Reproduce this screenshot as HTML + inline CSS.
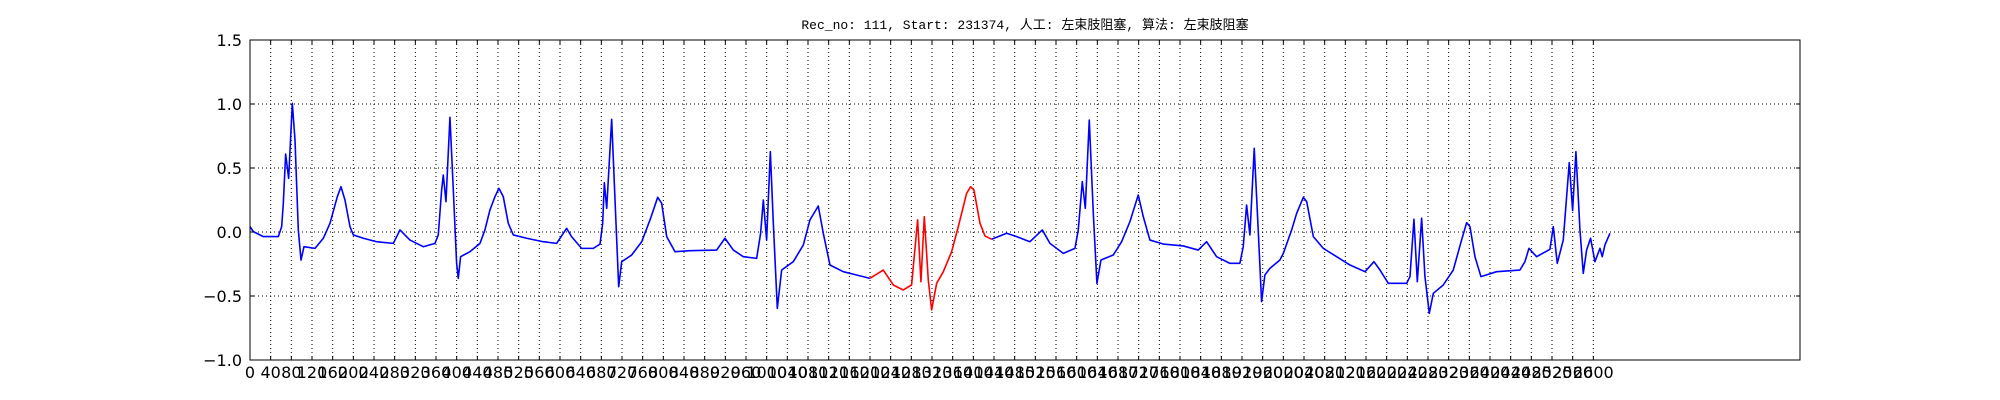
<!DOCTYPE html>
<html><head><meta charset="utf-8"><style>
html,body{margin:0;padding:0;background:#fff;}
svg{display:block;}
</style></head><body>
<svg id="chart" width="2000" height="400" xmlns="http://www.w3.org/2000/svg">
<text x="1025" y="29" text-anchor="middle" font-family="'Liberation Mono','Noto Sans CJK SC',monospace" font-size="13" fill="#000">Rec_no: 111, Start: 231374, 人工: 左束肢阻塞, 算法: 左束肢阻塞</text>
<g id="grid"></g><g id="series"></g><g id="axes"></g>
</svg>
<script>
const blueSamples=[0,6.5,25.8,54.8,61.3,64.5,69,74.8,81.9,87.1,93.5,98.7,104.5,125.8,141.9,154.8,169,176.1,183.8,193.5,200,219.3,245.1,277.4,290.3,296.7,309.6,335.4,358,364.4,370.9,374.1,379.3,387,393.5,399.9,403.1,407.6,425.7,445.1,454.7,464.4,474.1,481.8,490.2,499.9,509.6,535.4,567.6,593.4,612.8,622.4,641.8,664.4,677.5,682.6,685.8,690.4,700,706.5,713.6,719.4,738.7,758.1,774.2,789.1,796.8,806.5,822.6,851.6,903.2,919.3,935.5,954.8,980.6,988.3,993.5,999.9,1007.1,1012.9,1020.6,1029,1051.5,1070.9,1083.8,1099.9,1109.6,1122.5,1148.3,1174.1,1199.9];
const blueValues=[0.042,0.003,-0.036,-0.036,0.042,0.224,0.609,0.419,1.005,0.719,0.016,-0.219,-0.115,-0.128,-0.049,0.068,0.276,0.354,0.25,0.042,-0.023,-0.049,-0.076,-0.089,0.016,-0.01,-0.063,-0.115,-0.089,-0.023,0.328,0.445,0.237,0.896,0.328,-0.245,-0.362,-0.193,-0.154,-0.089,0.016,0.172,0.276,0.341,0.276,0.068,-0.023,-0.049,-0.076,-0.089,0.029,-0.036,-0.128,-0.128,-0.094,0.068,0.385,0.185,0.880,0.25,-0.427,-0.232,-0.18,-0.076,0.094,0.271,0.224,-0.036,-0.154,-0.146,-0.141,-0.049,-0.141,-0.193,-0.206,-0.010,0.25,-0.063,0.628,0.068,-0.596,-0.297,-0.232,-0.102,0.094,0.203,-0.01,-0.258,-0.31,-0.336,-0.362];
const redSamples=[1199.9,1225.7,1245.1,1264.4,1280.5,1292.2,1298.6,1305.1,1312.8,1319.3,1329,1341.9,1358,1370.9,1387,1394.8,1401.2,1412.9,1422.5,1435.4];
const redValues=[-0.362,-0.297,-0.414,-0.453,-0.414,0.094,-0.388,0.120,-0.375,-0.609,-0.401,-0.31,-0.154,0.042,0.302,0.354,0.328,0.068,-0.031,-0.057];
const blue2Samples=[1435.4,1464.5,1483.8,1509.6,1533.5,1548.3,1574.1,1596.7,1603.1,1610.9,1616.7,1624.4,1632.2,1639.2,1647,1670.9,1687,1703.1,1719.2,1728.9,1741.8,1767.6,1806.3,1835.3,1851.5,1870.8,1896.6,1915.9,1922.4,1928.9,1935.3,1943.7,1951.4,1957.9,1964.3,1974,1993.4,2000,2016.1,2025.8,2038.7,2045.2,2058.1,2077.4,2103.2,2129,2158,2175.4,2187.1,2203.2,2238.7,2245.1,2252.8,2259.3,2267.7,2274.1,2282.5,2290.3,2309.6,2328.9,2345,2354.8,2361.2,2370.9,2382.5,2412.8,2458,2467.6,2475.4,2490.2,2516,2522.5,2530.2,2541.8,2553.4,2559.9,2566.3,2574.1,2580.5,2587,2594.7,2603.1,2612.8,2617.3,2622.4,2632.1];
const blue2Values=[-0.057,-0.01,-0.036,-0.076,0.016,-0.089,-0.167,-0.128,0.016,0.393,0.185,0.875,0.146,-0.401,-0.219,-0.18,-0.076,0.081,0.289,0.120,-0.063,-0.094,-0.109,-0.141,-0.076,-0.193,-0.245,-0.245,-0.115,0.211,-0.023,0.654,0.016,-0.544,-0.336,-0.284,-0.219,-0.167,0.016,0.146,0.271,0.237,-0.036,-0.128,-0.193,-0.258,-0.31,-0.232,-0.297,-0.401,-0.401,-0.349,0.099,-0.388,0.107,-0.349,-0.635,-0.479,-0.414,-0.297,-0.063,0.073,0.042,-0.193,-0.349,-0.31,-0.297,-0.232,-0.128,-0.193,-0.135,0.042,-0.245,-0.063,0.542,0.167,0.628,0.016,-0.323,-0.141,-0.049,-0.232,-0.128,-0.193,-0.102,-0.01];
const yTicks=[1.5,1.0,0.5,0.0,-0.5,-1.0];
const yTickLabels=["1.5","1.0","0.5","0.0","\u22120.5","\u22121.0"];
const xMax=3000, xTickStep=40, xTickLast=2600;

const L=250,R=1800,T=40,B=360,yMin=-1,yMaxV=1.5;
const NS="http://www.w3.org/2000/svg";
function xs(v){return L+(v/xMax)*(R-L);}
function ys(v){return B-(v-yMin)/(yMaxV-yMin)*(B-T);}
function mk(tag,attrs,parent){const e=document.createElementNS(NS,tag);for(const k in attrs)e.setAttribute(k,attrs[k]);parent.appendChild(e);return e;}
const grid=document.getElementById('grid'),ser=document.getElementById('series'),axes=document.getElementById('axes');
for(let t=0;t<=xTickLast;t+=xTickStep){
  const x=xs(t);
  const g=mk('line',{x1:x,x2:x,y1:T,y2:B,stroke:'#000','stroke-width':1,'stroke-dasharray':'1,3'},grid);
  
  
  const tk=mk('line',{x1:x,x2:x,y1:B,y2:B-4,stroke:'#000','stroke-width':1},axes);
  
  
  const tk2=mk('line',{x1:x,x2:x,y1:T,y2:T+4,stroke:'#000','stroke-width':1},axes);
  
  
  const lb=mk('text',{x:x,y:B+18,'text-anchor':'middle','font-family':'"DejaVu Sans","Liberation Sans",sans-serif','font-size':16},axes);
  lb.textContent=String(t);
  
  
}
yTicks.forEach((v,i)=>{
  const y=ys(v);
  if(v>yMin&&v<yMaxV){const g=mk('line',{x1:L,x2:R,y1:y,y2:y,stroke:'#000','stroke-width':1,'stroke-dasharray':'1,3'},grid);
  
  }
  const tk=mk('line',{x1:L,x2:L+4,y1:y,y2:y,stroke:'#000'},axes);
  
  
  const tk2=mk('line',{x1:R,x2:R-4,y1:y,y2:y,stroke:'#000'},axes);
  
  
  const lb=mk('text',{x:L-8,y:y+6,'text-anchor':'end','font-family':'"DejaVu Sans","Liberation Sans",sans-serif','font-size':16},axes);
  lb.textContent=yTickLabels[i];
  
  
});
const frame=mk('rect',{x:L,y:T,width:R-L,height:B-T,fill:'none',stroke:'#000','stroke-width':1},axes);


function line(sx,vy,color,name){
  const pts=sx.map((s,i)=>xs(s).toFixed(2)+','+ys(vy[i]).toFixed(2)).join(' ');
  const p=mk('polyline',{points:pts,fill:'none',stroke:color,'stroke-width':1.6,'stroke-linejoin':'round'},ser);
  
  
}
line(blueSamples,blueValues,'#0000ff','ecg-trace-start');
line(redSamples,redValues,'#ff0000','ecg-trace-highlighted-segment');
line(blue2Samples,blue2Values,'#0000ff','ecg-trace-end');
</script>
</body></html>
